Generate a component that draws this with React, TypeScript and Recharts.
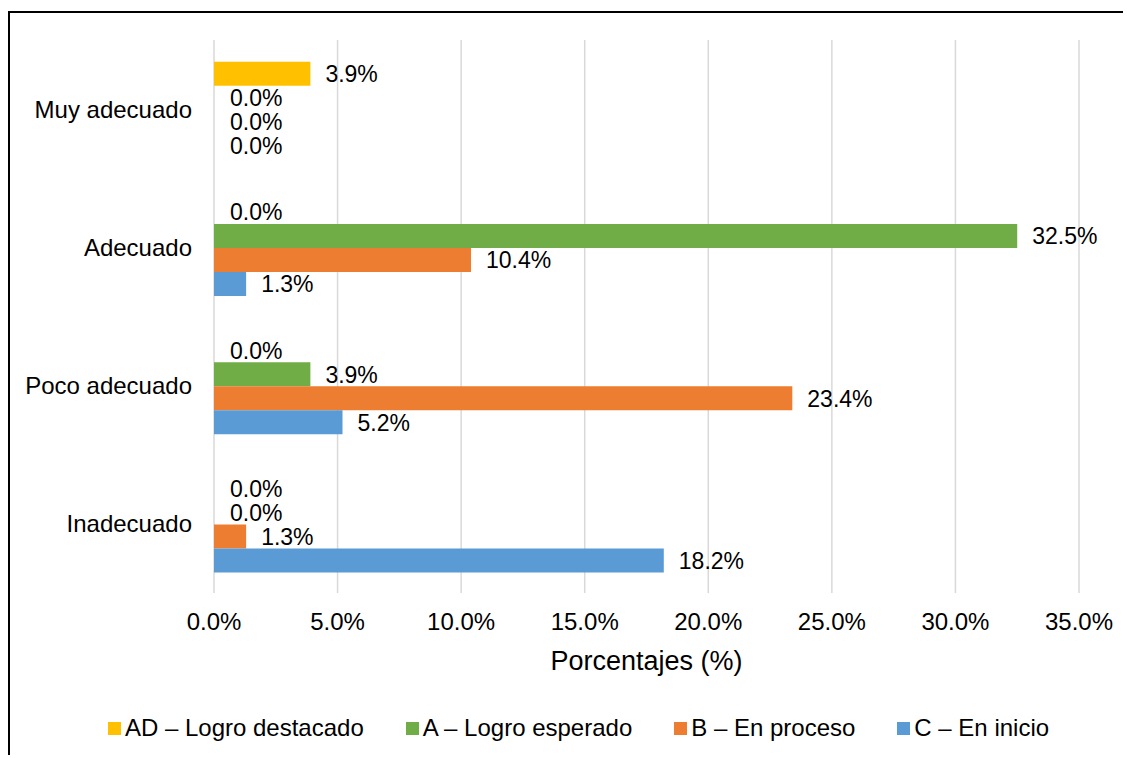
import { Bar, BarChart, CartesianGrid, Cell, LabelList, Legend, XAxis, YAxis } from 'recharts';

const categories = ['Muy adecuado', 'Adecuado', 'Poco adecuado', 'Inadecuado'];
const logroDestacado = [3.9, 0.0, 0.0, 0.0];
const logroEsperado = [0.0, 32.5, 3.9, 0.0];
const enProceso = [0.0, 10.4, 23.4, 1.3];
const enInicio = [0.0, 1.3, 5.2, 18.2];
const xTicks = [0, 5, 10, 15, 20, 25, 30, 35];

const series = [
  { key: 'ad', name: 'AD – Logro destacado', color: '#FFC000', values: logroDestacado },
  { key: 'a', name: 'A – Logro esperado', color: '#70AD47', values: logroEsperado },
  { key: 'b', name: 'B – En proceso', color: '#ED7D31', values: enProceso },
  { key: 'c', name: 'C – En inicio', color: '#5B9BD5', values: enInicio },
];

const data = categories.map((name, i) => ({
  name,
  ad: logroDestacado[i],
  a: logroEsperado[i],
  b: enProceso[i],
  c: enInicio[i],
}));

const FONT = '"Liberation Sans", Arial, sans-serif';
const pct = (v: number) => `${Number(v).toFixed(1)}%`;

const LegendContent = () => (
  <div
    style={{
      display: 'flex',
      justifyContent: 'center',
      alignItems: 'center',
      height: 30,
      paddingLeft: 16,
      fontFamily: FONT,
      fontSize: 24,
      color: '#000',
    }}
  >
    {series.map((s, i) => (
      <div
        key={s.key}
        style={{ display: 'flex', alignItems: 'center', marginRight: i < series.length - 1 ? 42 : 0 }}
      >
        <span style={{ width: 13, height: 13, background: s.color, marginRight: 4, display: 'inline-block' }} />
        <span>{s.name}</span>
      </div>
    ))}
  </div>
);

export default function App() {
  return (
    <div
      style={{
        position: 'relative',
        top: 3,
        width: 1123,
        height: 747,
        boxSizing: 'border-box',
        borderLeft: '2px solid #000',
        borderTop: '2px solid #000',
        fontFamily: FONT,
      }}
    >
      <BarChart
        width={1121}
        height={745}
        data={data}
        layout="vertical"
        margin={{ top: 27, right: 52, left: 0, bottom: 15 }}
        barCategoryGap="15.8%"
        barGap={0}
      >
        <CartesianGrid horizontal={false} stroke="#d9d9d9" strokeWidth={1.5} />
        <XAxis
          type="number"
          domain={[0, 35]}
          ticks={xTicks}
          tickFormatter={pct}
          axisLine={false}
          tickLine={false}
          tickMargin={14}
          height={120}
          tick={{ fontSize: 24, fill: '#000', fontFamily: FONT }}
          label={{
            value: 'Porcentajes (%)',
            position: 'insideBottom',
            offset: 43,
            style: { fontSize: 27, fill: '#000', fontFamily: FONT },
          }}
        />
        <YAxis
          type="category"
          dataKey="name"
          width={204}
          axisLine={false}
          tickLine={false}
          tickMargin={16}
          tick={{ fontSize: 24, fill: '#000', fontFamily: FONT }}
        />
        <Legend verticalAlign="bottom" height={30} content={<LegendContent />} wrapperStyle={{ left: 0, width: 1121 }} />
        {series.map((s) => (
          <Bar
            key={s.key}
            dataKey={s.key}
            name={s.name}
            fill={s.color}
            minPointSize={1}
            isAnimationActive={false}
          >
            {s.values.map((v, i) => (
              <Cell key={i} fill={s.color} fillOpacity={v === 0 ? 0 : 1} />
            ))}
            <LabelList
              dataKey={s.key}
              position="right"
              offset={15}
              formatter={(v: any) => pct(v)}
              style={{ fontSize: 23, fill: '#000', fontFamily: FONT }}
            />
          </Bar>
        ))}
      </BarChart>
    </div>
  );
}
